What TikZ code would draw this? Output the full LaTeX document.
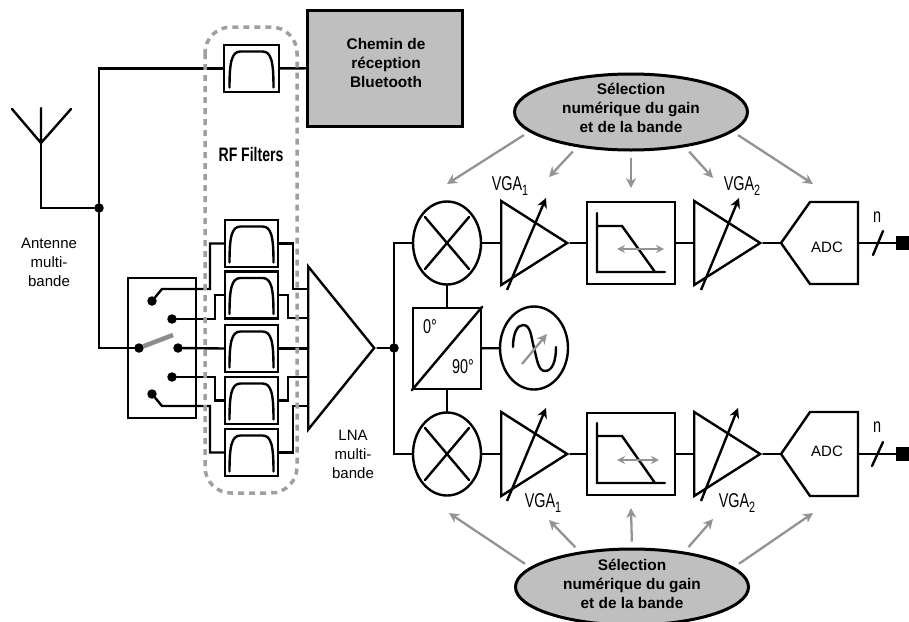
\documentclass[tikz,border=0pt]{standalone}
\usepackage{fontspec}
\setmainfont{Liberation Sans}
\newfontfamily\narrowfont[FakeStretch=0.72]{Liberation Sans}
\usetikzlibrary{arrows.meta,shapes.geometric}
\newcommand{\vgatext}[1]{{\narrowfont\fontsize{20}{20}\selectfont VGA\raisebox{-5pt}{\fontsize{15}{15}\selectfont #1}}}
\tikzset{
wire/.style={line width=2.4pt, line cap=round, line join=miter}, % every black line
box/.style={draw, line width=2.4pt, rectangle, inner sep=0pt},
filterbox/.style={box, minimum width=53pt, minimum height=47pt},
lpfbox/.style={box, minimum width=88pt, minimum height=82pt},
mixer/.style={draw, line width=2.4pt, ellipse, inner sep=0pt, minimum width=68pt, minimum height=83pt},
vga/.style={draw, line width=2.4pt, isosceles triangle, isosceles triangle stretches, inner sep=0pt, minimum height=66pt, minimum width=84pt, anchor=lower side},
dot/.style={circle, fill=black, inner sep=0pt, minimum size=9.5pt},
selblock/.style={draw, line width=3pt, fill=gray!50, ellipse, inner sep=0pt, minimum width=233pt, minimum height=76pt},
selarrow/.style={-{Stealth[length=10pt,width=10pt]}, line width=2.3pt, draw=gray!85, shorten <=6pt},
lbl/.style={inner sep=0pt, align=center, font=\fontsize{15}{19}\selectfont},
boldlbl/.style={inner sep=0pt, align=center, font=\fontsize{15.4}{19}\selectfont\bfseries},
narrowlbl/.style={inner sep=0pt, align=center, font=\narrowfont\fontsize{20}{20}\selectfont},
tune/.style={-{Stealth[length=10pt,width=10pt]}, line width=2.4pt},
}

\begin{document}
\begin{tikzpicture}[x=1pt,y=-1pt]
\useasboundingbox (0,0) rectangle (909,621);
% filters
\node[filterbox, minimum width=55pt] (ftop) at (251.5,68.5) {};
\node[filterbox] (fa) at (251.5,243.5) {};
\node[filterbox] (fb) at (251.5,295) {};
\node[filterbox] (fc) at (251.5,348.5) {};
\node[filterbox] (fd) at (251.5,400.5) {};
\node[filterbox] (fe) at (251.5,452.5) {};
\foreach \f in {ftop,fa,fb,fc,fd,fe}
	\draw[wire] ([shift={(-22,19)}]\f.center) .. controls ([shift={(-22,-6)}]\f.center) and ([shift={(-20,-17)}]\f.center) .. ([shift={(-11,-17)}]\f.center)
		-- ([shift={(11,-17)}]\f.center) .. controls ([shift={(20,-17)}]\f.center) and ([shift={(22,-6)}]\f.center) .. ([shift={(22,19)}]\f.center);
\node[box, fill=gray!50, line width=3pt, minimum width=155pt, minimum height=116pt] (bt) at (384.5,68) {};
\draw[wire] (ftop) -- (bt);
\node[boldlbl] at (386,63) {Chemin de\\réception\\Bluetooth};
% antenna
\coordinate (anttop) at (41,108);
\coordinate (antfoot) at (41,143);
\coordinate (antl) at (12,109);
\coordinate (antr) at (71,109);
\node[dot] (junca) at (99,208) {};
\draw[wire] (anttop) -- (antfoot) (antl) -- (antfoot) -- (antr);
\draw[wire] (antfoot) |- (junca);
\draw[wire] (ftop.west) -| (junca);
\node[lbl] at (49,262) {Antenne\\multi-\\bande};
% switch
\node[box, minimum width=68pt, minimum height=140pt] (sw) at (162,348) {};
\node[dot] (pole) at (139,348) {};
\node[dot] (swa) at (152,301) {};
\node[dot] (swb) at (172,319) {};
\node[dot] (swc) at (178,348) {};
\node[dot] (swd) at (172,377) {};
\node[dot] (swe) at (152,394) {};
\draw[wire] (junca) |- (pole);
\draw[line width=4.5pt, draw=gray!90] (pole) -- (173,335);
% lna
\node[vga, minimum width=163pt] (lna) at (307,348) {};
\coordinate (lnaa) at (307,289);
\coordinate (lnab) at (307,318);
\coordinate (lnad) at (307,377);
\coordinate (lnae) at (307,406);
\node[lbl] at (353,454) {LNA\\multi-\\bande};
\node[dot] (juncb) at (394,348) {};
% switch to filters
\draw[wire] (swa) -- (162,289) -- (210,289) |- (fa.west);
\draw[wire] (swb) -- (215,319) |- (fb.west);
\draw[wire] (swc) -- (fc.west);
\draw[wire] (swd) -- (215,377) |- (fd.west);
\draw[wire] (swe) -- (162,406) -- (210,406) |- (fe.west);
% filters to lna
\draw[wire] (fa.east) -| (293,289) -- (lnaa);
\draw[wire] (fb.east) -| (288,318) -- (lnab);
\draw[wire] (fc.east) -- (fc.east -| lna.lower side);
\draw[wire] (fd.east) -| (288,377) -- (lnad);
\draw[wire] (fe.east) -| (293,406) -- (lnae);
\draw[wire] (lna.apex) -- (juncb);
% rows
\node[mixer] (mixa) at (447,243) {};
\node[mixer] (mixb) at (447,454) {};
\draw[wire] (juncb) |- (mixa);
\draw[wire] (juncb) |- (mixb);
\foreach \m in {mixa,mixb}
	\draw[wire] ([shift={(-22,-26)}]\m.center) -- ([shift={(22,26)}]\m.center)
		([shift={(-22,26)}]\m.center) -- ([shift={(22,-26)}]\m.center);
\node[box, minimum width=68pt, minimum height=81pt] (quad) at (447,348.5) {};
\draw[wire] (quad.south west) -- (quad.north east);
\node[narrowlbl] at (430,327) {0°};
\node[narrowlbl] at (463,367) {90°};
\draw[wire] (mixa) -- (quad);
\draw[wire] (mixb) -- (quad);
\node[mixer] (osc) at (534,348) {};
\draw[wire] (quad) -- (osc);
\draw[wire] (513,347) .. controls (513,334) and (517,325) .. (523,325) .. controls (531,325) and (531,337) .. (534,348)
	.. controls (537,359) and (538,371) .. (545,371) .. controls (552,371) and (556,362) .. (556,347);
\draw[selarrow, shorten <=0pt] (522,364) -- (547,334);
% upper row
\node[vga] (vgaa) at (500,243) {};
\node[lpfbox] (lpfa) at (631,243) {};
\node[vga] (vgab) at (693,243) {};
\coordinate (adcain) at (781,243);
\coordinate (adcaout) at (858,243);
\draw[wire] (adcain) -- (810,202) -- (858,202) -- (858,284) -- (810,284) -- cycle;
\node[lbl] at (827,247) {ADC};
\node[rectangle, fill=black, inner sep=0pt, minimum width=13pt, minimum height=14pt] (outa) at (902.5,243) {};
\draw[wire] (mixa) -- (vgaa.lower side);
\draw[wire] (vgaa.apex) -- (lpfa);
\draw[wire] (lpfa) -- (vgab.lower side);
\draw[wire] (vgab.apex) -- (adcain);
\draw[wire] (adcaout) -- (outa);
\draw[wire] (873,255) -- (883,231);
\draw[tune] (507,290) -- (546,198);
\draw[tune] (701,290) -- (739,198);
\draw[wire] (597,213) -- (597,272) -- (665,272) (597,226) -- (622,226) -- (655,272);
\draw[{Stealth[length=8pt,width=8pt]}-{Stealth[length=8pt,width=8pt]}, line width=2.3pt, draw=gray!85] (617,249) -- (664,249);
\node[inner sep=0pt] at (510,186) {\vgatext{1}};
\node[inner sep=0pt] at (742,186) {\vgatext{2}};
\node[narrowlbl] at (877,217) {n};
% lower row
\node[vga] (vgac) at (500,454) {};
\node[lpfbox] (lpfb) at (631,454) {};
\node[vga] (vgad) at (693,454) {};
\coordinate (adcbin) at (781,454);
\coordinate (adcbout) at (858,454);
\draw[wire] (adcbin) -- (810,412) -- (858,412) -- (858,496) -- (810,496) -- cycle;
\node[lbl] at (827,451) {ADC};
\node[rectangle, fill=black, inner sep=0pt, minimum width=13pt, minimum height=14pt] (outb) at (902.5,454) {};
\draw[wire] (mixb) -- (vgac.lower side);
\draw[wire] (vgac.apex) -- (lpfb);
\draw[wire] (lpfb) -- (vgad.lower side);
\draw[wire] (vgad.apex) -- (adcbin);
\draw[wire] (adcbout) -- (outb);
\draw[wire] (872,466) -- (883,442);
\draw[tune] (507,501) -- (546,408);
\draw[tune] (701,501) -- (738,408);
\draw[wire] (597,423) -- (597,483) -- (665,483) (597,436) -- (622,436) -- (655,483);
\draw[{Stealth[length=8pt,width=8pt]}-{Stealth[length=8pt,width=8pt]}, line width=2.3pt, draw=gray!85] (617,460) -- (659,460);
\node[inner sep=0pt] at (543,503) {\vgatext{1}};
\node[inner sep=0pt] at (737,503) {\vgatext{2}};
\node[narrowlbl] at (877,427) {n};
% selection blocks
\node[selblock] (sela) at (631,112) {};
\node[boldlbl] at (631,108) {Sélection\\numérique du gain\\et de la bande};
\node[selblock] (selb) at (632,587) {};
\node[boldlbl] at (632,584) {Sélection\\numérique du gain\\et de la bande};
\coordinate (tipa) at (447,184);
\coordinate (tipb) at (549,177);
\coordinate (tipc) at (631,188);
\coordinate (tipd) at (713,178);
\coordinate (tipe) at (813,184);
\coordinate (tipf) at (449,513);
\coordinate (tipg) at (549,520);
\coordinate (tiph) at (631,508);
\coordinate (tipi) at (713,519);
\coordinate (tipj) at (813,513);
\foreach \a/\t in {191/tipa,213/tipb,270/tipc,327/tipd,349/tipe}
	\draw[selarrow] (sela.\a) -- (\t);
\foreach \a/\t in {169/tipf,146/tipg,90/tiph,34/tipi,11/tipj}
	\draw[selarrow] (selb.\a) -- (\t);
% rf filter group
\draw[line width=3.5pt, draw=gray!75, dash pattern=on 6pt off 5pt, rounded corners=26pt] (205,27) rectangle (297,493);
\node[narrowlbl, font=\narrowfont\fontsize{19.5}{19.5}\selectfont\bfseries] at (251,155) {RF Filters};
\end{tikzpicture}
\end{document}
